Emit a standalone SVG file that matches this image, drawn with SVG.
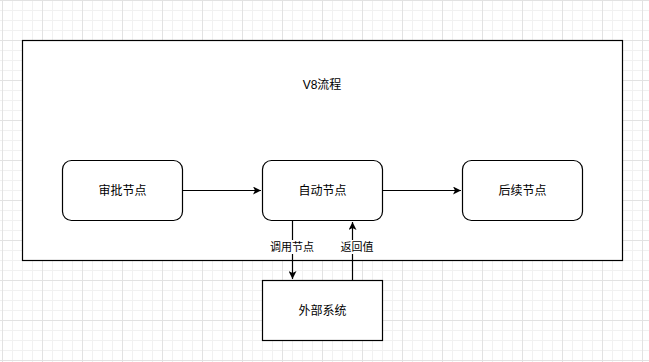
<svg xmlns="http://www.w3.org/2000/svg" width="649" height="362" viewBox="0 0 649 362">
  <style>
    .box { fill: #ffffff; stroke: #000000; stroke-width: 1.2; }
    .txt { font-family: "Liberation Sans", "Noto Sans CJK SC", sans-serif; font-size: 12px; fill: #000000; text-anchor: middle; dominant-baseline: central; }
    .lbl { font-family: "Liberation Sans", "Noto Sans CJK SC", sans-serif; font-size: 11px; fill: #000000; text-anchor: middle; dominant-baseline: central; }
    .edge { fill: none; stroke: #000000; stroke-width: 1.2; }
  </style>
  <defs>
    <pattern id="grid" x="2" y="0" width="40" height="40" patternUnits="userSpaceOnUse">
      <path d="M10.5 0V40M20.5 0V40M30.5 0V40M0 10.5H40M0 20.5H40M0 30.5H40" stroke="#f1f1f1" stroke-width="1" fill="none"/>
      <path d="M0.5 0V40M0 0.5H40" stroke="#e2e2e2" stroke-width="1" fill="none"/>
    </pattern>
    <marker id="arr" viewBox="0 0 10 10" refX="10" refY="5" markerWidth="8" markerHeight="8" markerUnits="userSpaceOnUse" orient="auto">
      <path d="M0 0L10 5L0 10L2.5 5Z" fill="#000000"/>
    </marker>
  </defs>
  <rect x="0" y="0" width="649" height="362" fill="#ffffff"/>
  <rect x="0" y="0" width="649" height="362" fill="url(#grid)"/>

  <g id="container">
    <rect class="box" x="22.5" y="40.5" width="600" height="220"/>
    <text class="txt" x="322" y="85">V8流程</text>
  </g>

  <g id="connectors">
    <path class="edge" d="M182.5 190.5H261" marker-end="url(#arr)"/>
    <path class="edge" d="M382.5 190.5H461" marker-end="url(#arr)"/>
    <path class="edge" d="M292.5 220.5V279" marker-end="url(#arr)"/>
    <path class="edge" d="M352.5 280.5V222" marker-end="url(#arr)"/>
    <rect x="269" y="240" width="46" height="14" fill="#ffffff"/>
    <text class="lbl" x="292" y="247">调用节点</text>
    <rect x="339" y="240" width="36" height="14" fill="#ffffff"/>
    <text class="lbl" x="357" y="247">返回值</text>
  </g>

  <g id="node-approve">
    <rect class="box" x="62.5" y="160.5" width="120" height="60" rx="9" ry="9"/>
    <text class="txt" x="122.5" y="190.5">审批节点</text>
  </g>
  <g id="node-auto">
    <rect class="box" x="262.5" y="160.5" width="120" height="60" rx="9" ry="9"/>
    <text class="txt" x="322.5" y="190.5">自动节点</text>
  </g>
  <g id="node-next">
    <rect class="box" x="462.5" y="160.5" width="120" height="60" rx="9" ry="9"/>
    <text class="txt" x="522.5" y="190.5">后续节点</text>
  </g>
  <g id="node-external">
    <rect class="box" x="262.5" y="280.5" width="120" height="60"/>
    <text class="txt" x="322.5" y="310.5">外部系统</text>
  </g>
</svg>
